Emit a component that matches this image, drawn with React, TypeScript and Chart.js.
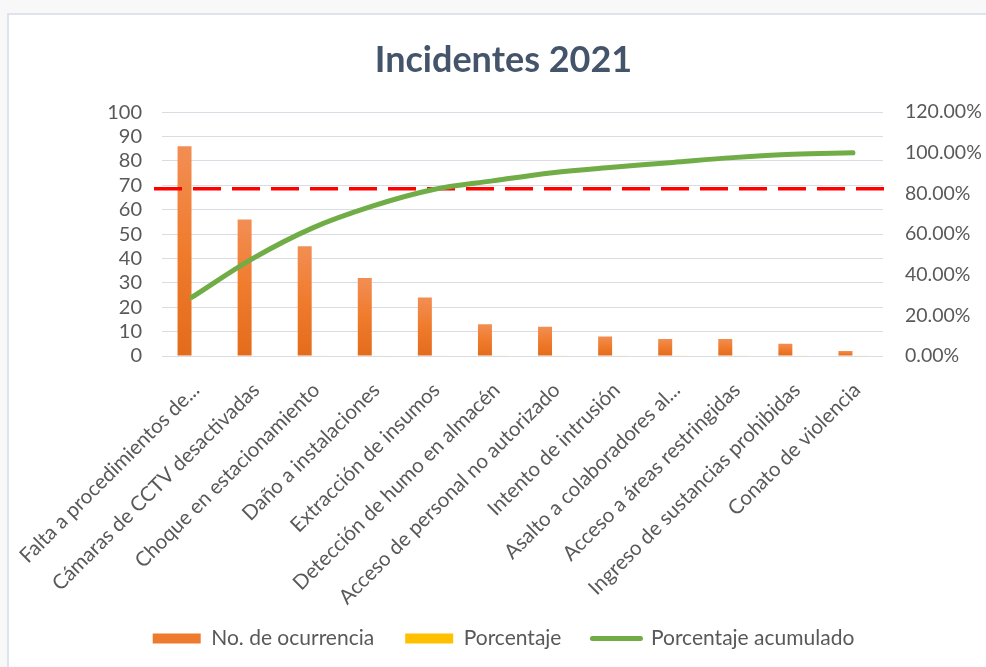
import React, { useEffect, useRef } from "react";
import { Chart, registerables } from "chart.js";

Chart.register(...registerables);

const categories = [
  "Falta a procedimientos de...",
  "Cámaras de CCTV desactivadas",
  "Choque en estacionamiento",
  "Daño a instalaciones",
  "Extracción de insumos",
  "Detección de humo en almacén",
  "Acceso de personal no autorizado",
  "Intento de intrusión",
  "Asalto a colaboradores al...",
  "Acceso a áreas restringidas",
  "Ingreso de sustancias prohibidas",
  "Conato de violencia",
];
const ocurrencias = [86, 56, 45, 32, 24, 13, 12, 8, 7, 7, 5, 2];
const porcentaje = [0.29, 0.19, 0.15, 0.11, 0.08, 0.04, 0.04, 0.03, 0.02, 0.02, 0.02, 0.01];
const porcentajeAcumulado = [28.96, 47.81, 62.96, 73.74, 81.82, 86.2, 90.24, 92.93, 95.29, 97.64, 99.33, 100];
const leftAxisRange = [0, 100, 10];
const rightAxisRange = [0, 120, 20];
const umbral = 82.3; // red dashed reference line, on the right (%) axis

const FONT = "Lato";
const TEXT = "#595959";

const dashedLinePlugin = {
  id: "umbral",
  beforeDatasetDraw(chart: any, args: any) {
    if (args.index !== 2) return;
    const { ctx, chartArea } = chart;
    const y = chart.scales.y1.getPixelForValue(umbral);
    ctx.save();
    ctx.strokeStyle = "#ff0000";
    ctx.lineWidth = 3.5;
    ctx.setLineDash([28, 11]);
    ctx.beginPath();
    ctx.moveTo(chartArea.left - 8, y);
    ctx.lineTo(chartArea.right + 5, y);
    ctx.stroke();
    ctx.restore();
  },
};

export default function App() {
  const ref = useRef<HTMLCanvasElement | null>(null);

  useEffect(() => {
    if (!ref.current) return;
    const barColor = (c: any) => {
      const chart = c.chart;
      const ys = chart.scales && chart.scales.y;
      if (!chart.chartArea || !ys || typeof c.raw !== "number") return "#ed7d31";
      const top = ys.getPixelForValue(c.raw);
      const bottom = ys.getPixelForValue(0);
      if (!isFinite(top) || !isFinite(bottom) || bottom - top < 1) return "#ed7d31";
      const g = chart.ctx.createLinearGradient(0, top, 0, bottom);
      g.addColorStop(0, "#f28e54");
      g.addColorStop(0.5, "#f07b2c");
      g.addColorStop(1, "#e36b1c");
      return g;
    };
    const chart = new Chart(ref.current, {
      type: "bar",
      data: {
        labels: categories,
        datasets: [
          {
            label: "No. de ocurrencia",
            data: ocurrencias,
            backgroundColor: barColor,
            borderWidth: 0,
            yAxisID: "y",
            order: 2,
            categoryPercentage: 0.5,
            barPercentage: 0.93,
          } as any,
          {
            label: "Porcentaje",
            data: porcentaje,
            backgroundColor: "rgba(255,192,0,0.2)",
            borderWidth: 0,
            yAxisID: "y",
            order: 3,
            categoryPercentage: 0.5,
            barPercentage: 0.93,
          } as any,
          {
            type: "line",
            label: "Porcentaje acumulado",
            data: porcentajeAcumulado,
            borderColor: "#70ad47",
            backgroundColor: "#70ad47",
            borderWidth: 5,
            borderCapStyle: "round",
            pointRadius: 0,
            tension: 0.35,
            yAxisID: "y1",
            order: 1,
          } as any,
        ],
      },
      options: {
        animation: false,
        responsive: false,
        layout: { padding: { left: 12, right: 0, top: 0, bottom: 8 } },
        plugins: {
          tooltip: { enabled: false },
          title: {
            display: true,
            text: "Incidentes 2021",
            color: "#44546a",
            font: { family: FONT, size: 36, weight: "bold", lineHeight: 1.2 },
            padding: { top: 24, bottom: 30 },
          },
          legend: {
            position: "bottom",
            labels: {
              usePointStyle: true,
              pointStyleWidth: 48,
              boxHeight: 10,
              padding: 31,
              color: TEXT,
              font: { family: FONT, size: 21 },
              generateLabels: () => [
                { text: "No. de ocurrencia", fillStyle: "#ee7a2e", strokeStyle: "#ee7a2e", lineWidth: 0, pointStyle: "rect", hidden: false, datasetIndex: 0, fontColor: TEXT },
                { text: "Porcentaje", fillStyle: "#ffc000", strokeStyle: "#ffc000", lineWidth: 0, pointStyle: "rect", hidden: false, datasetIndex: 1, fontColor: TEXT },
                { text: "Porcentaje acumulado", fillStyle: "#70ad47", strokeStyle: "#70ad47", lineWidth: 5, lineCap: "round", pointStyle: "line", hidden: false, datasetIndex: 2, fontColor: TEXT },
              ] as any,
            },
          },
        },
        scales: {
          x: {
            grid: { display: false, drawTicks: false },
            border: { display: false },
            ticks: {
              color: TEXT,
              font: { family: FONT, size: 20.5 },
              minRotation: 45,
              maxRotation: 45,
              autoSkip: false,
              padding: 22,
              labelOffset: 4,
            },
            afterFit: (s: any) => {
              s.height = 241;
              s.paddingLeft = 0;
              s.paddingRight = 0;
              // let the long rotated labels run past the axis box instead of being clipped
              s._computeLabelArea = () => undefined;
            },
          },
          y: {
            position: "left",
            min: leftAxisRange[0],
            max: leftAxisRange[1],
            grid: { color: "#d9dde3", lineWidth: 1, drawTicks: false },
            border: { display: false },
            ticks: {
              stepSize: leftAxisRange[2],
              autoSkip: false,
              color: TEXT,
              font: { family: FONT, size: 20 },
              padding: 20,
            },
            afterFit: (s: any) => {
              s.width = 141;
            },
          },
          y1: {
            position: "right",
            min: rightAxisRange[0],
            max: rightAxisRange[1],
            grid: { display: false, drawTicks: false },
            border: { display: false },
            ticks: {
              stepSize: rightAxisRange[2],
              autoSkip: false,
              color: TEXT,
              font: { family: FONT, size: 19.5 },
              padding: 22,
              callback: (v: any) => Number(v).toFixed(2) + "%",
            },
            afterFit: (s: any) => {
              s.width = 103;
            },
          },
        },
      },
      plugins: [dashedLinePlugin],
    });
    return () => chart.destroy();
  }, []);

  return (
    <div style={{ position: "fixed", left: 0, top: 0, width: "100%", height: "100%", background: "#f8f8f8", overflow: "hidden" }}>
      <div
        style={{
          position: "absolute",
          left: 7,
          top: 13,
          width: 990,
          height: 680,
          border: "2px solid #dfe3ec",
          background: "#ffffff",
        }}
      >
        <canvas ref={ref} width={977} height={652} style={{ display: "block", width: 977, height: 652 }} />
      </div>
    </div>
  );
}
